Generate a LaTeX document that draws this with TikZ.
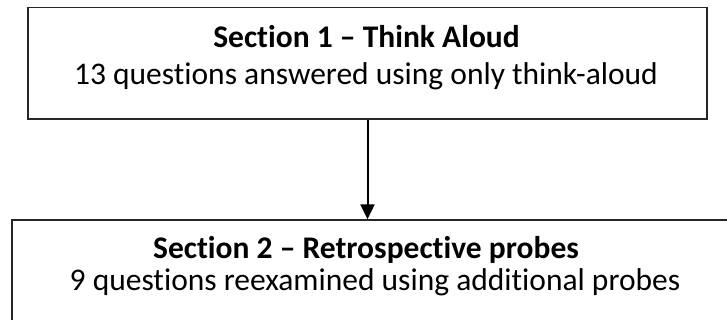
\documentclass[tikz,border=0pt]{standalone}
\usepackage{fontspec}
\setmainfont{Carlito}[Ligatures=NoCommon]
\usetikzlibrary{arrows.meta}
\begin{document}
\begin{tikzpicture}[x=1pt,y=-1pt,
  boxstyle/.style={draw=black!85, line width=1.3pt, rectangle, inner sep=0pt},
  titletext/.style={anchor=base, font=\fontsize{31.5}{36}\selectfont\bfseries, inner sep=0pt},
  bodytext/.style={anchor=base, font=\fontsize{31.5}{36}\selectfont, inner sep=0pt},
  arrowstyle/.style={line width=2pt, -{Triangle[length=15pt,width=14pt]}}]
\clip (0,0) rectangle (727,320);
\node[boxstyle, minimum width=679pt, minimum height=111.5pt] (top) at (367.5,63.25) {};
\node[boxstyle, minimum width=718pt, minimum height=110pt] (bot) at (371,275) {};
\node[titletext] (t1) at (366.5,48) {Section 1 – Think Aloud};
\node[bodytext] (b1) at (366,85) {13 questions answered using only think-aloud};
\node[titletext] (t2) at (366,258) {Section 2 – Retrospective probes};
\node[bodytext] (b2) at (375,290) {9 questions reexamined using additional probes};
\draw[arrowstyle] (top.south) -- (top.south |- bot.north);
\end{tikzpicture}
\end{document}
